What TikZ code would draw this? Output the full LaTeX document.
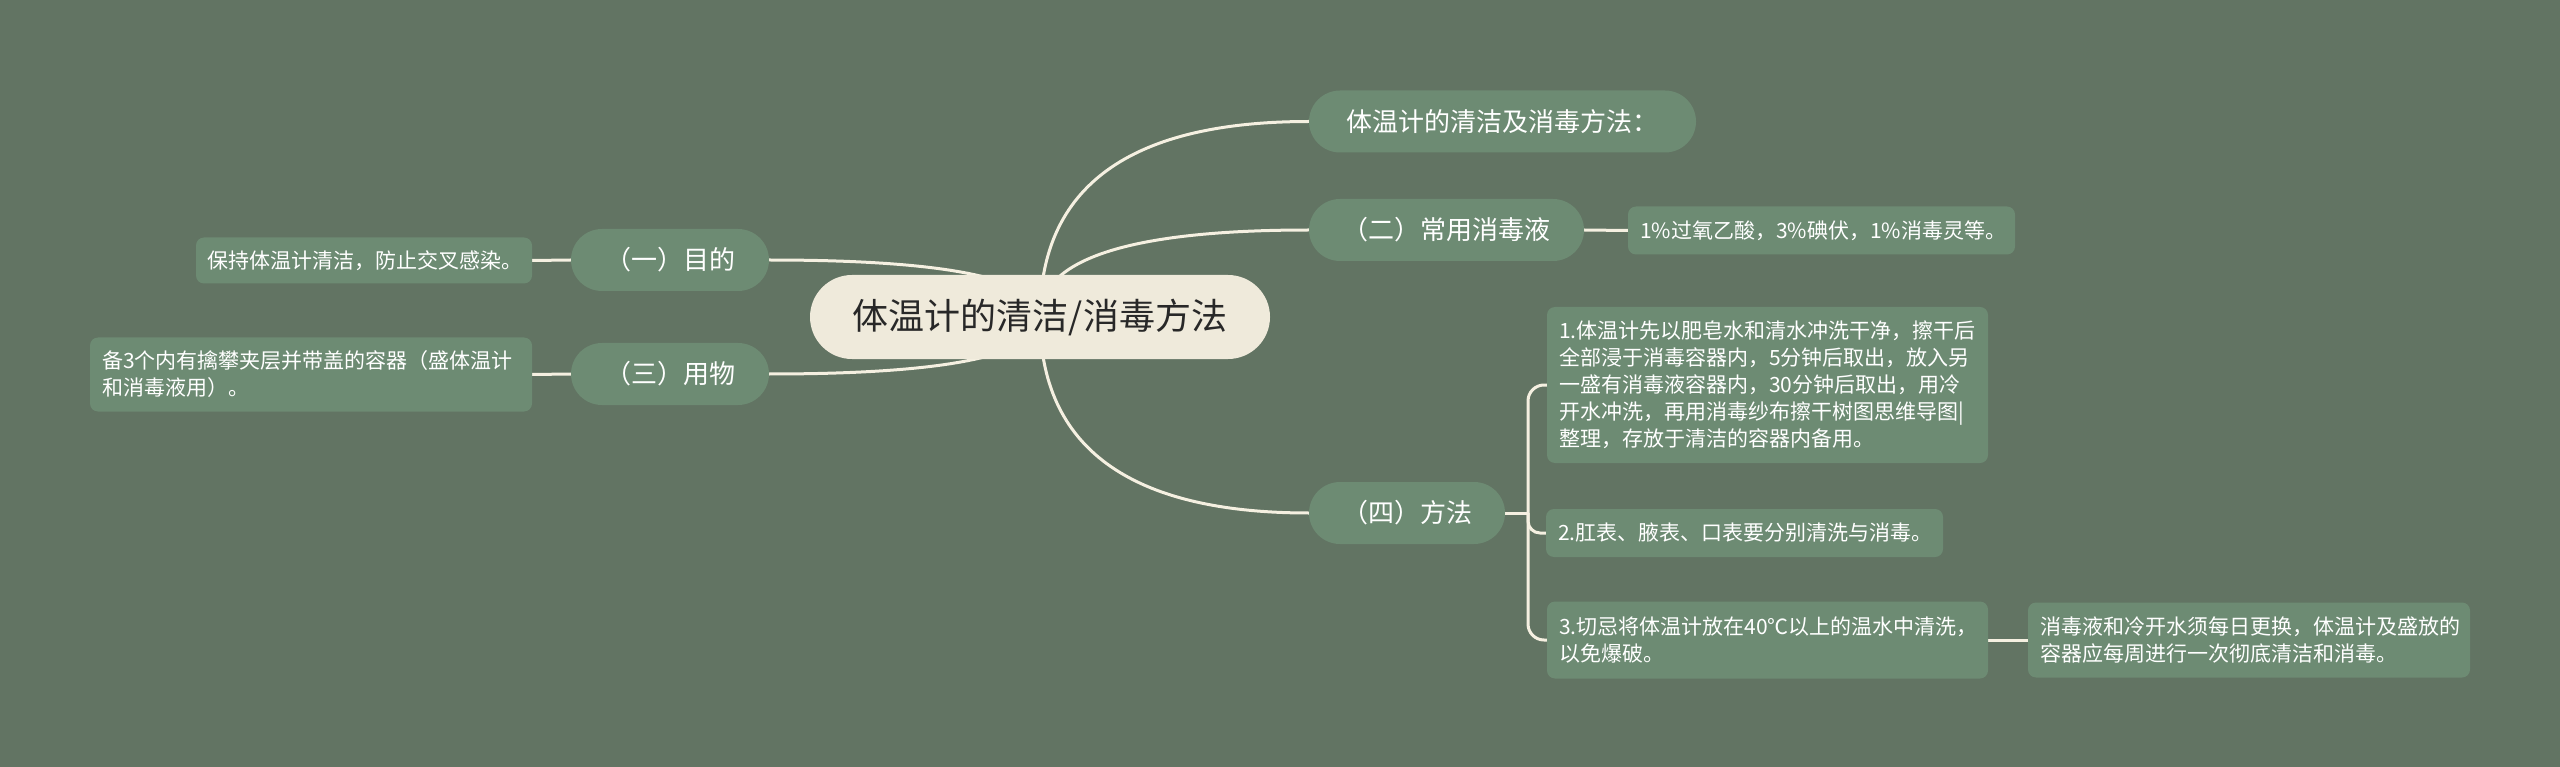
\documentclass[tikz,border=0pt]{standalone}
\usepackage{fontspec}
\newfontfamily\cjk{Noto Sans CJK SC}
\pgfdeclarelayer{bglayer}
\pgfdeclarelayer{connlayer}
\pgfsetlayers{bglayer,connlayer,main}
\definecolor{bgcol}{RGB}{98,116,99}
\definecolor{nodegreen}{RGB}{109,139,115}
\definecolor{rootcream}{RGB}{239,234,219}
\definecolor{linecream}{RGB}{245,240,225}
\definecolor{roottext}{RGB}{40,40,40}
\tikzset{
  topic/.style={rounded corners=31pt, fill=nodegreen, text=white, font=\cjk\fontsize{26}{32}\selectfont, minimum height=62pt, inner sep=0pt},
  rootnode/.style={rounded corners=42pt, fill=rootcream, text=roottext, font=\cjk\fontsize{36}{44}\selectfont, minimum height=84pt, minimum width=460pt, inner sep=0pt},
  leaf/.style={rounded corners=8pt, fill=nodegreen, text=white, font=\cjk\fontsize{21}{27}\selectfont, inner sep=0pt, align=left},
  conn/.style={draw=linecream, line width=3pt}
}
\begin{document}
\begin{tikzpicture}[x=1pt,y=-1pt]
\begin{pgfonlayer}{bglayer}
\fill[bgcol] (0,0) rectangle (2560,767);
\end{pgfonlayer}
\useasboundingbox (0,0) rectangle (2560,767);

% root
\node[rootnode] (root) at (1040,317) {体温计的清洁/消毒方法};

% topics
\node[topic, minimum width=387pt] (n1) at (1502.5,121.5) {体温计的清洁及消毒方法：};
\node[topic, minimum width=275pt] (n2) at (1446.5,230) {（二）常用消毒液};
\node[topic, minimum width=198pt] (na) at (670,260) {（一）目的};
\node[topic, minimum width=198pt] (nc) at (670,374) {（三）用物};
\node[topic, minimum width=196pt] (n4) at (1407,513) {（四）方法};

% leaves
\node[leaf, minimum width=387pt, minimum height=48pt, text width=363pt] (l2) at (1821.5,230.5) {1\%过氧乙酸，3\%碘伏，1\%消毒灵等。};
\node[leaf, minimum width=336pt, minimum height=46pt, text width=314pt] (la) at (364,260.5) {保持体温计清洁，防止交叉感染。};
\node[leaf, minimum width=442pt, minimum height=74pt, text width=418pt] (lc) at (311,374.5) {备3个内有擒攀夹层并带盖的容器（盛体温计\\和消毒液用）。};
\node[leaf, minimum width=441pt, minimum height=156pt, text width=417pt] (l41) at (1767.5,385) {1.体温计先以肥皂水和清水冲洗干净，擦干后\\全部浸于消毒容器内，5分钟后取出，放入另\\一盛有消毒液容器内，30分钟后取出，用冷\\开水冲洗，再用消毒纱布擦干树图思维导图|\\整理，存放于清洁的容器内备用。};
\node[leaf, minimum width=397pt, minimum height=48pt, text width=373pt] (l42) at (1744.5,533) {2.肛表、腋表、口表要分别清洗与消毒。};
\node[leaf, minimum width=441pt, minimum height=77pt, text width=417pt] (l43) at (1767.5,640) {3.切忌将体温计放在40℃以上的温水中清洗，\\以免爆破。};
\node[leaf, minimum width=442pt, minimum height=75pt, text width=418pt] (l431) at (2249,640) {消毒液和冷开水须每日更换，体温计及盛放的\\容器应每周进行一次彻底清洁和消毒。};

\coordinate (b4) at (1528,513);

\begin{pgfonlayer}{connlayer}
\draw[conn] (root.center) .. controls (1040,186.3) and (1129.7,121.5) .. (n1.west);
\draw[conn] (root.center) .. controls (1040,259) and (1129.7,230) .. (n2.west);
\draw[conn] (root.center) .. controls (1040,447.7) and (1129.7,513) .. (n4.west);
\draw[conn] (root.center) .. controls (1040,279) and (949.7,260) .. (na.east);
\draw[conn] (root.center) .. controls (1040,355) and (949.7,374) .. (nc.east);
\draw[conn] (na.west) -- (la.east);
\draw[conn] (nc.west) -- (lc.east);
\draw[conn] (n2.east) -- (l2.west);
\draw[conn] (n4.east) -- (b4);
\draw[conn, rounded corners=16pt] (b4) |- (l41.west);
\draw[conn, rounded corners=12pt] (b4) |- (l42.west);
\draw[conn, rounded corners=16pt] (b4) |- (l43.west);
\draw[conn] (l43.east) -- (l431.west);
\end{pgfonlayer}
\end{tikzpicture}
\end{document}
